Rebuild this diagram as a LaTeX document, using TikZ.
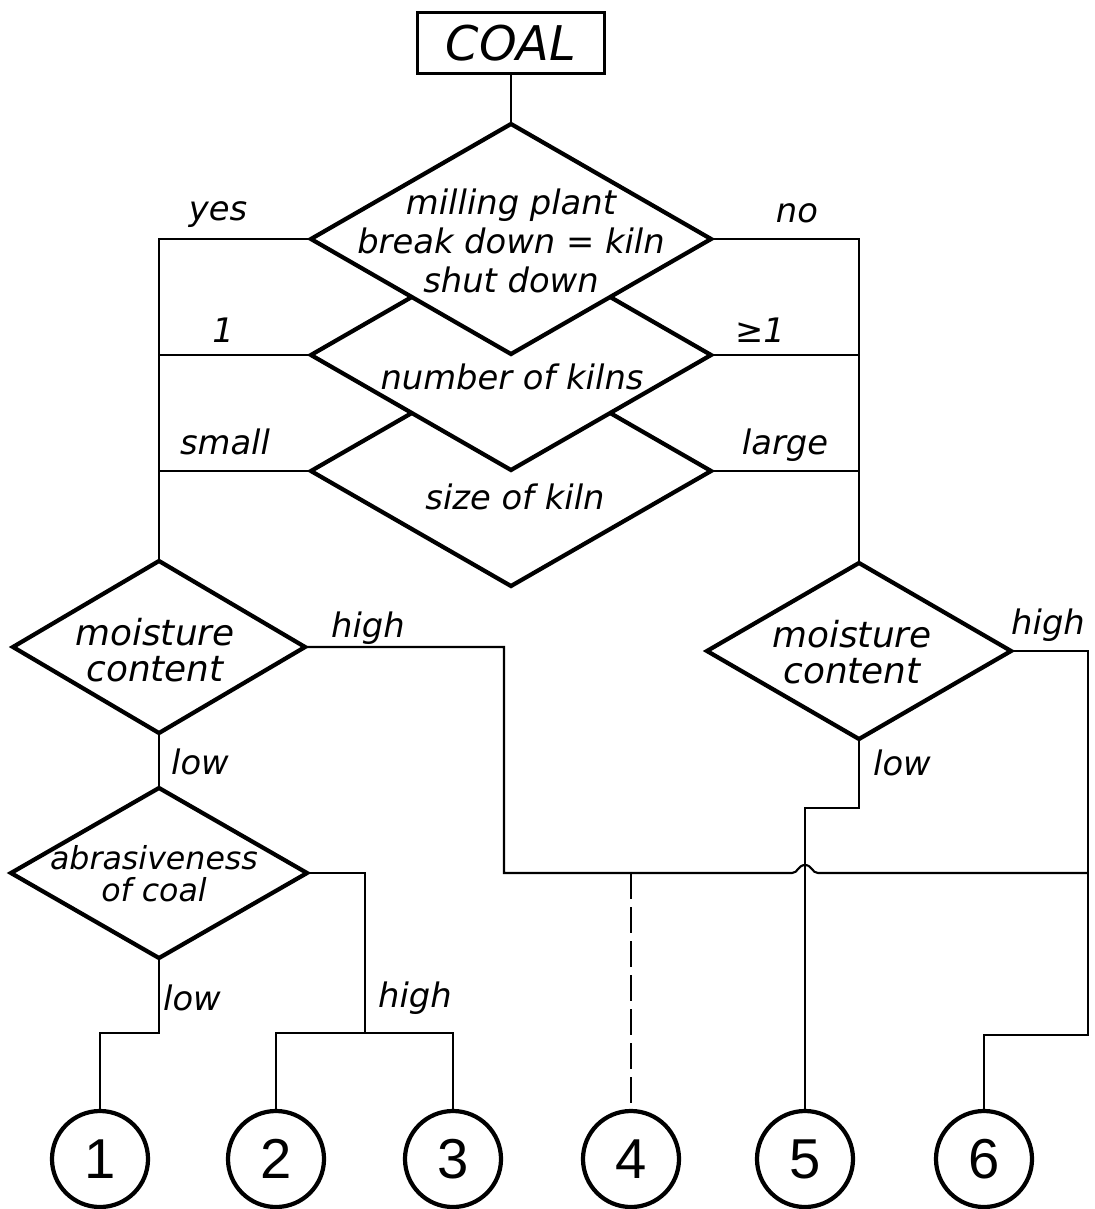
\documentclass[tikz,border=0pt]{standalone}
\usepackage{fontspec}
\setmainfont{DejaVu Sans}
\newfontfamily\digitfont{Liberation Sans}
\usetikzlibrary{shapes.geometric,calc}

\begin{document}
\begin{tikzpicture}[x=0.025cm,y=-0.025cm,
      dia/.style={diamond,draw,fill=white,line width=3pt,inner sep=0pt,outer sep=0pt},
      txt/.style={align=center,inner sep=0pt,font=\itshape\fontsize{24}{28}\selectfont},
      lbl/.style={inner sep=0pt,font=\itshape\fontsize{24}{28}\selectfont},
      endpt/.style={circle,draw,line width=3pt,minimum size=2.4cm,inner sep=0pt,
        font=\digitfont\fontsize{40}{40}\selectfont},
      conn/.style={line width=1.5pt}]
    \useasboundingbox (0,0) rectangle (1095,1209);
    \node[draw,line width=2.2pt,minimum width=4.675cm,minimum height=1.525cm,inner sep=0pt,
      font=\itshape\fontsize{34}{34}\selectfont] (coal) at (511,43) {COAL};
    % kiln questions, lowest first so the upper ones cover it
    \node[dia,minimum width=10cm,minimum height=5.75cm] (size) at (511,471) {};
    \node[dia,minimum width=10cm,minimum height=5.75cm] (num) at (511,355) {};
    \node[dia,minimum width=10cm,minimum height=5.75cm] (mill) at (511,239) {};
    \node[txt] (milltxt) at (511,241) {milling plant\\break down = kiln\\shut down};
    \node[txt] (numtxt) at (512,377) {number of kilns};
    \node[txt] (sizetxt) at (515,497) {size of kiln};
    % moisture and abrasiveness
    \node[dia,minimum width=7.3cm,minimum height=4.3cm] (mleft) at (159,647) {};
    \node[txt,font=\itshape\fontsize{25.5}{25.6}\selectfont] (mlefttxt) at (155,650) {moisture\\content};
    \node[dia,minimum width=7.6cm,minimum height=4.4cm] (mright) at (859,651) {};
    \node[txt,font=\itshape\fontsize{25.5}{25.6}\selectfont] (mrighttxt) at (852,652) {moisture\\content};
    \node[dia,minimum width=7.4cm,minimum height=4.25cm] (abr) at (159,873) {};
    \node[txt,font=\itshape\fontsize{22.5}{22.8}\selectfont] (abrtxt) at (154,874) {abrasiveness\\of coal};
    % results
    \foreach \n/\x in {1/100,2/276,3/453,4/631,5/805,6/984}
      \node[endpt] (out\n) at (\x,1159) {\n};

    \draw[conn] (coal) -- (mill.north);
    \draw[conn] (mill.west) -| (mleft.north);
    \draw[conn] (num.west) -- (num.west -| mleft.north);
    \draw[conn] (size.west) -- (size.west -| mleft.north);
    \draw[conn] (mill.east) -| (mright.north);
    \draw[conn] (num.east) -- (num.east -| mright.north);
    \draw[conn] (size.east) -- (size.east -| mright.north);
    \draw[conn] (mleft.south) -- (abr.north);

    \coordinate (busl) at (504,873);
    \coordinate (busr) at (1088,873);
    \coordinate (hop) at (out5.north |- busl);
    \coordinate (s1) at (100,1033);
    \coordinate (s23) at (365,1033);
    \coordinate (s5) at (805,808);
    \coordinate (s6) at (1088,1035);
    \draw[conn] (mleft.east) -| (busl) -- ($(hop)+(-13,0)$)
      .. controls ($(hop)+(-7,0)$) and ($(hop)+(-7,-8)$) .. ($(hop)+(0,-8)$)
      .. controls ($(hop)+(7,-8)$) and ($(hop)+(7,0)$) .. ($(hop)+(13,0)$) -- (busr);
    \draw[conn] (mright.east) -| (s6) -| (out6.north);
    \draw[conn,dash pattern=on 0.65cm off 0.2cm] (out4.north |- busl) -- (out4.north);
    \draw[conn] (mright.south) |- (s5) -- (out5.north);
    \draw[conn] (abr.south) |- (s1) -- (out1.north);
    \draw[conn] (abr.east) -| (s23);
    \draw[conn] (out2.north) |- (s23) -| (out3.north);

    \node[lbl] (yes) at (218,215) {yes};
    \node[lbl] (no) at (797,213) {no};
    \node[lbl] (one) at (223,330) {1};
    \node[lbl] (geone) at (760,330) {≥1};
    \node[lbl] (small) at (225,442) {small};
    \node[lbl] (large) at (785,445) {large};
    \node[lbl] (highl) at (368,628) {high};
    \node[lbl] (highr) at (1048,625) {high};
    \node[lbl] (lowl) at (200,762) {low};
    \node[lbl] (lowr) at (902,763) {low};
    \node[lbl] (lowab) at (192,998) {low};
    \node[lbl] (highab) at (415,998) {high};
\end{tikzpicture}
\end{document}
